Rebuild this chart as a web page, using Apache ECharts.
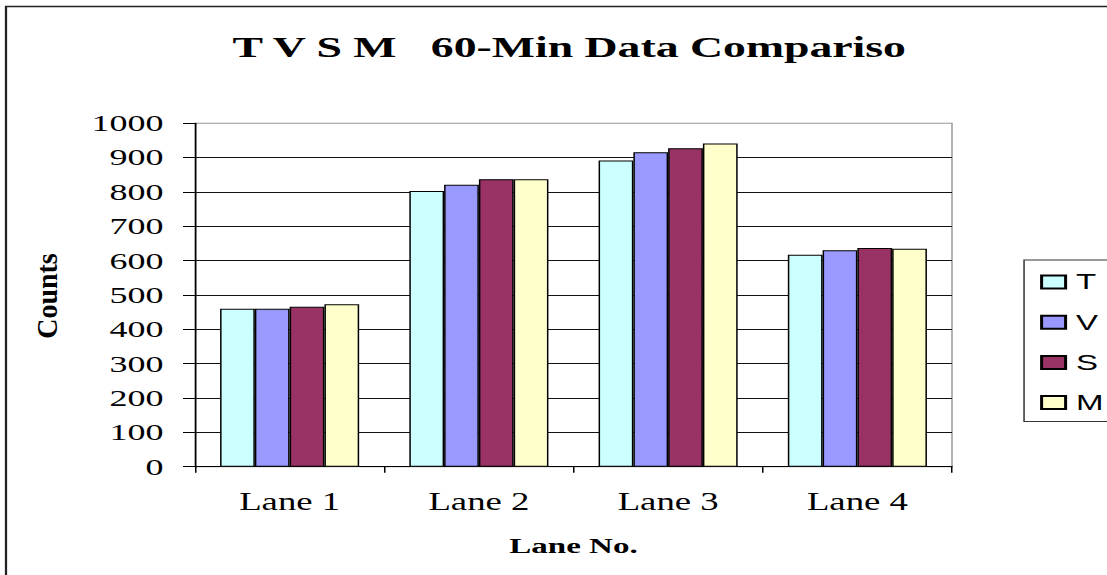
<!DOCTYPE html>
<html>
<head>
<meta charset="utf-8">
<title>T V S M 60-Min Data Comparison</title>
<script src="https://cdn.jsdelivr.net/npm/echarts@6/dist/echarts.min.js"></script>
<style>
  html, body { margin: 0; padding: 0; background: #fff; overflow: hidden; }
  /* the source chart is stretched sideways, so draw narrow and widen it */
  #chart { width: 738px; height: 575px; transform: scaleX(1.5); transform-origin: 0 0; }
</style>
</head>
<body>
<div id="chart"></div>
<script>
  // 数据
  var lanes = ['Lane 1', 'Lane 2', 'Lane 3', 'Lane 4'];
  var seriesNames = ['T', 'V', 'S', 'M'];
  var tVals = [460, 803, 892, 617];
  var vVals = [460, 821, 916, 630];
  var sVals = [466, 837, 927, 637];
  var mVals = [473, 837, 941, 635];
  var colors = ['#CCFFFF', '#9999FF', '#993366', '#FFFFCC'];

  var serif = '"Liberation Serif", "Times New Roman", serif';

  function bar(name, data) {
    return {
      name: name,
      type: 'bar',
      data: data,
      barGap: '0%',
      barCategoryGap: '26.5%',
      itemStyle: { borderColor: '#000', borderWidth: 1 }
    };
  }

  var myChart = echarts.init(document.getElementById('chart'), null, { renderer: 'svg' });
  myChart.setOption({
    animation: false,
    color: colors,
    title: {
      text: 'T V S M   60-Min Data Compariso',
      left: 155,
      top: 31,
      padding: 0,
      textStyle: { fontFamily: serif, fontSize: 30.5, fontWeight: 'bold', color: '#000' }
    },
    legend: {
      orient: 'vertical',
      left: 682.7,
      top: 260,
      padding: [11, 30, 8, 10.7],
      icon: 'rect',
      itemWidth: 16,
      itemHeight: 13,
      itemGap: 18.2,
      borderColor: '#333',
      borderWidth: 1,
      data: seriesNames,
      textStyle: {
        fontFamily: '"Liberation Sans", Arial, sans-serif', fontSize: 22, lineHeight: 22,
        color: '#000', padding: [0, 0, 0, 2]
      }
    },
    grid: {
      left: 130,
      right: 103.33,
      top: 123.3,
      bottom: 108.3,
      show: true,
      borderColor: '#999',
      borderWidth: 1
    },
    xAxis: {
      type: 'category',
      data: lanes,
      name: 'Lane No.',
      nameLocation: 'middle',
      nameGap: 68,
      nameTextStyle: { fontFamily: serif, fontSize: 22, fontWeight: 'bold', color: '#000' },
      axisLine: { lineStyle: { color: '#000', width: 1 } },
      axisTick: { show: true, length: 6, alignWithLabel: false, lineStyle: { color: '#000' } },
      axisLabel: { fontFamily: serif, fontSize: 24.5, color: '#000', margin: 23 },
      splitLine: { show: false }
    },
    yAxis: {
      type: 'value',
      min: 0,
      max: 1000,
      interval: 100,
      axisLine: { show: true, lineStyle: { color: '#000', width: 1 } },
      axisTick: { show: true, length: 8, lineStyle: { color: '#000' } },
      axisLabel: {
        fontFamily: serif, fontSize: 24, color: '#000', margin: 21,
        formatter: function (v) { return String(v); }
      },
      splitLine: { show: true, showMaxLine: false, lineStyle: { color: '#111', width: 1 } }
    },
    graphic: [
      {
        // outer chart frame, right and bottom run off the page
        type: 'rect',
        shape: { x: 4, y: 6.5, width: 800, height: 620 },
        style: { fill: null, stroke: '#222', lineWidth: 1.5 },
        silent: true
      },
      {
        type: 'text',
        x: 31.7,
        y: 296,
        rotation: Math.PI / 2,
        scaleY: 0.68,
        style: {
          text: 'Counts',
          fontFamily: serif,
          fontSize: 28,
          fontWeight: 'bold',
          fill: '#000',
          align: 'center',
          verticalAlign: 'middle'
        }
      }
    ],
    series: [
      bar('T', tVals),
      bar('V', vVals),
      bar('S', sVals),
      bar('M', mVals)
    ]
  });
</script>
</body>
</html>
